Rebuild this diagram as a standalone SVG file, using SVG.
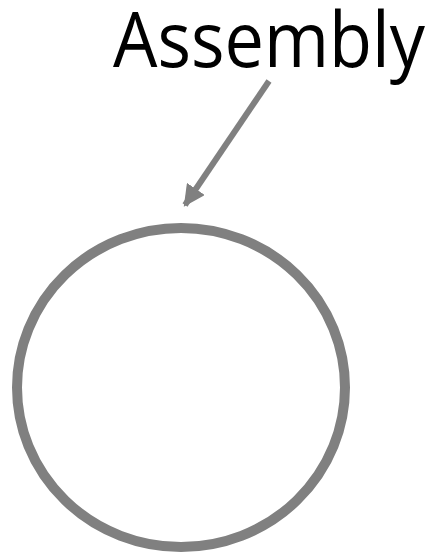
<svg xmlns="http://www.w3.org/2000/svg" width="439" height="554" viewBox="0 0 439 554">
<defs>
<style>
.lbl{font-family:"Open Sans","Liberation Sans",sans-serif;font-size:76px;fill:#000}
.edge{stroke:#808080;stroke-width:6;fill:none}
.node{stroke:#808080;stroke-width:10;fill:#fff}
</style>
<marker id="ah" viewBox="0 0 10 10" refX="9" refY="5" markerWidth="3.6" markerHeight="3.6" orient="auto" markerUnits="strokeWidth">
<path d="M0,0 L10,5 L0,10 z" fill="#808080"/>
</marker>
</defs>
<rect width="439" height="554" fill="#fff"/>
<g id="label"><text class="lbl" x="113" y="67" textLength="312" lengthAdjust="spacingAndGlyphs">Assembly</text></g>
<g id="connectors"><line class="edge" x1="269" y1="81" x2="185" y2="205" marker-end="url(#ah)"/></g>
<g id="assembly"><ellipse class="node" cx="181" cy="387.5" rx="164" ry="159.5"/></g>
</svg>
